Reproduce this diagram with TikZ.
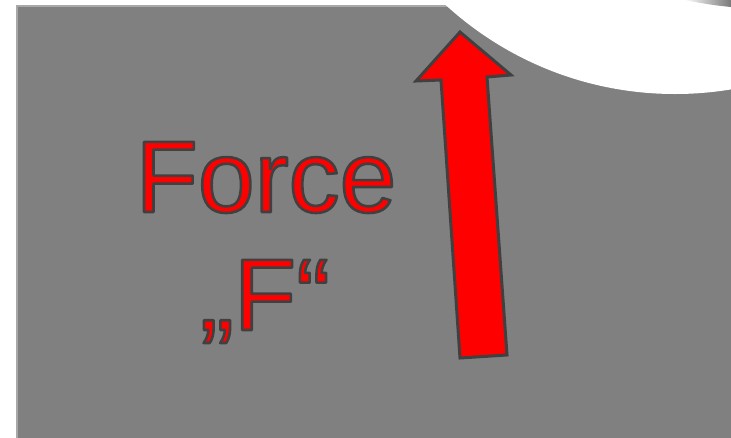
\documentclass[tikz,border=0pt]{standalone}
\usepackage{fontspec}
\setmainfont{Liberation Sans}
\usetikzlibrary{positioning}
\definecolor{plate}{HTML}{808080}
\definecolor{rim}{HTML}{A8A8A8}
\definecolor{outline}{HTML}{404040}
% red letters with a dark rim
\newcommand{\outlined}[1]{\special{pdf:literal direct 2 Tr 2.6 w 1 j 0.251 0.251 0.251 RG}#1\special{pdf:literal direct 0 Tr}}

\begin{document}
\begin{tikzpicture}[x=1pt,y=-1pt,every node/.style={font=\fontsize{102}{118}\selectfont,text=red,inner sep=0pt}]
\useasboundingbox (0,0) rectangle (731,437);
\draw[rim,line width=2pt,fill=plate] (17,6) rectangle (745,450);
\fill[white] (675,-246) circle (340pt);
\shade[left color=white,right color=outline!70] (684,0) -- (731,0) -- (731,7) .. controls (712,5) .. (684,0);
\node[anchor=base] (force) at (266,212) {\outlined{Force}};
\node[anchor=base] (fquote) at (265,330) {\outlined{„F“}};
\draw[outline,line width=3pt,fill=red] (460,32) -- (511,75) -- (487,77) -- (507,355) -- (460,358) -- (441,80) -- (416,81) -- cycle;
\end{tikzpicture}
\end{document}
